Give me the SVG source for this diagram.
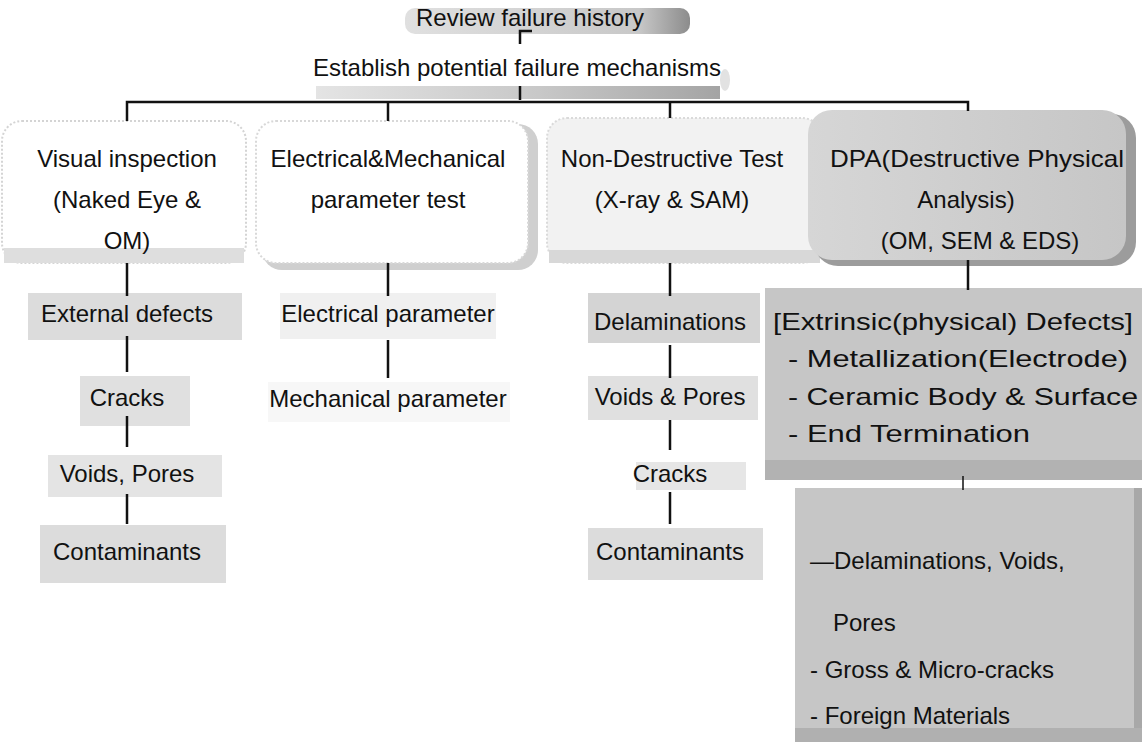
<svg xmlns="http://www.w3.org/2000/svg" width="1142" height="754" viewBox="0 0 1142 754">
<style>
text{font-family:"Liberation Sans",Arial,sans-serif;font-size:24px;fill:#111}
.c{text-anchor:middle}
.ln{stroke:#111;stroke-width:2.5;fill:none}
.thin{stroke:#111;stroke-width:1.5;fill:none}
</style>
<defs>
<linearGradient id="estGrad" x1="0" x2="1" y1="0" y2="0">
<stop offset="0" stop-color="#e4e4e4"/><stop offset="0.55" stop-color="#c8c8c8"/><stop offset="1" stop-color="#a4a4a4"/>
</linearGradient>
<linearGradient id="revGrad" x1="0" x2="1" y1="0" y2="0">
<stop offset="0" stop-color="#e0e0e0"/><stop offset="0.82" stop-color="#c8c8c8"/><stop offset="1" stop-color="#8c8c8c"/>
</linearGradient>
<linearGradient id="dpaGrad" x1="0" x2="1" y1="0" y2="0">
<stop offset="0" stop-color="#d6d6d6"/><stop offset="1" stop-color="#c6c6c6"/>
</linearGradient>
</defs>
<rect width="1142" height="754" fill="#fff"/>

<g id="review">
<rect x="405" y="8" width="285" height="26" rx="10" fill="url(#revGrad)"/>
<text class="c" x="530" y="26">Review failure history</text>
</g>

<g id="establish">
<rect x="316" y="86" width="404" height="13" fill="url(#estGrad)"/>
<ellipse cx="725" cy="80" rx="5" ry="11" fill="#e2e2e2"/>
<text class="c" x="517" y="76">Establish potential failure mechanisms</text>
</g>

<g id="visual">
<rect x="2" y="121" width="244" height="142" rx="20" fill="#fff" stroke="#d4d4d4" stroke-width="2" stroke-dasharray="2 2"/>
<rect x="4" y="248" width="240" height="15" fill="#dedede"/>
<text class="c" x="127" y="167">Visual inspection</text>
<text class="c" x="127" y="208">(Naked Eye &amp;</text>
<text class="c" x="127" y="249">OM)</text>
</g>

<g id="elecmech">
<rect x="262" y="124" width="276" height="146" rx="20" fill="#cfcfcf"/>
<rect x="256" y="121" width="272" height="142" rx="20" fill="#fff" stroke="#d8d8d8" stroke-width="2" stroke-dasharray="2 2"/>
<text class="c" x="388" y="167">Electrical&amp;Mechanical</text>
<text class="c" x="388" y="208">parameter test</text>
</g>

<g id="ndt">
<rect x="547" y="118" width="275" height="145" rx="20" fill="#f2f2f2" stroke="#dadada" stroke-width="2" stroke-dasharray="2 2"/>
<rect x="549" y="250" width="271" height="13" fill="#d8d8d8"/>
<text class="c" x="672" y="167">Non-Destructive Test</text>
<text class="c" x="672" y="208">(X-ray &amp; SAM)</text>
</g>

<g id="dpa">
<rect x="814" y="114" width="322" height="152" rx="24" fill="#9c9c9c"/>
<rect x="808" y="110" width="318" height="150" rx="24" fill="url(#dpaGrad)"/>
<text class="c" x="977" y="167" textLength="294" lengthAdjust="spacingAndGlyphs">DPA(Destructive Physical</text>
<text class="c" x="966" y="208">Analysis)</text>
<text class="c" x="980" y="249">(OM, SEM &amp; EDS)</text>
</g>

<g id="ext-defects">
<rect x="28" y="293" width="214" height="47" fill="#dcdcdc"/>
<text class="c" x="127" y="322">External defects</text>
</g>
<g id="cracks1">
<rect x="80" y="376" width="110" height="50" fill="#e0e0e0"/>
<text class="c" x="127" y="406">Cracks</text>
</g>
<g id="voids1">
<rect x="48" y="455" width="174" height="42" fill="#e4e4e4"/>
<text class="c" x="127" y="482">Voids, Pores</text>
</g>
<g id="contam1">
<rect x="40" y="525" width="186" height="58" fill="#dcdcdc"/>
<text class="c" x="127" y="560">Contaminants</text>
</g>

<g id="elec-param">
<rect x="280" y="293" width="216" height="46" fill="#f0f0f0"/>
<text class="c" x="388" y="322">Electrical parameter</text>
</g>
<g id="mech-param">
<rect x="268" y="382" width="242" height="40" fill="#f7f7f7"/>
<text class="c" x="388" y="407">Mechanical parameter</text>
</g>

<g id="delam3">
<rect x="588" y="293" width="172" height="50" fill="#d4d4d4"/>
<text class="c" x="670" y="330">Delaminations</text>
</g>
<g id="voids3">
<rect x="588" y="376" width="170" height="44" fill="#e0e0e0"/>
<text class="c" x="670" y="405">Voids &amp; Pores</text>
</g>
<g id="cracks3">
<rect x="636" y="462" width="110" height="28" fill="#e6e6e6"/>
<text class="c" x="670" y="482">Cracks</text>
</g>
<g id="contam3">
<rect x="588" y="528" width="175" height="52" fill="#dcdcdc"/>
<text class="c" x="670" y="560">Contaminants</text>
</g>

<g id="extrinsic">
<rect x="765" y="288" width="377" height="192" fill="#c6c6c6"/>
<rect x="765" y="460" width="377" height="20" fill="#b2b2b2"/>
<text x="773" y="330" textLength="360" lengthAdjust="spacingAndGlyphs">[Extrinsic(physical) Defects]</text>
<text x="788" y="367" textLength="340" lengthAdjust="spacingAndGlyphs">- Metallization(Electrode)</text>
<text x="788" y="405" textLength="350" lengthAdjust="spacingAndGlyphs">- Ceramic Body &amp; Surface</text>
<text x="788" y="442" textLength="242" lengthAdjust="spacingAndGlyphs">- End Termination</text>
</g>

<g id="internal">
<rect x="795" y="488" width="347" height="254" fill="#c6c6c6"/>
<rect x="1134" y="488" width="8" height="254" fill="#a8a8a8"/>
<rect x="795" y="728" width="347" height="14" fill="#b0b0b0"/>
<text x="810" y="569">—Delaminations, Voids,</text>
<text x="833" y="631">Pores</text>
<text x="810" y="678">- Gross &amp; Micro-cracks</text>
<text x="810" y="724">- Foreign Materials</text>
</g>

<g id="connectors">
<path class="ln" d="M520 44 V31 H532"/>
<path class="ln" d="M520 86 V100"/>
<path class="ln" d="M127 121 V102 H968 V111"/>
<path class="ln" d="M388 102 V121"/>
<path class="ln" d="M670 102 V118"/>
<path class="ln" d="M127 263 V296 M127 336 V372 M127 416 V447 M127 494 V524"/>
<path class="ln" d="M388 263 V296 M388 340 V378"/>
<path class="ln" d="M670 263 V296 M670 345 V378 M670 420 V450 M670 492 V524"/>
<path class="ln" d="M968 260 V290"/>
<path class="thin" d="M963 476 V490"/>
</g>
</svg>
